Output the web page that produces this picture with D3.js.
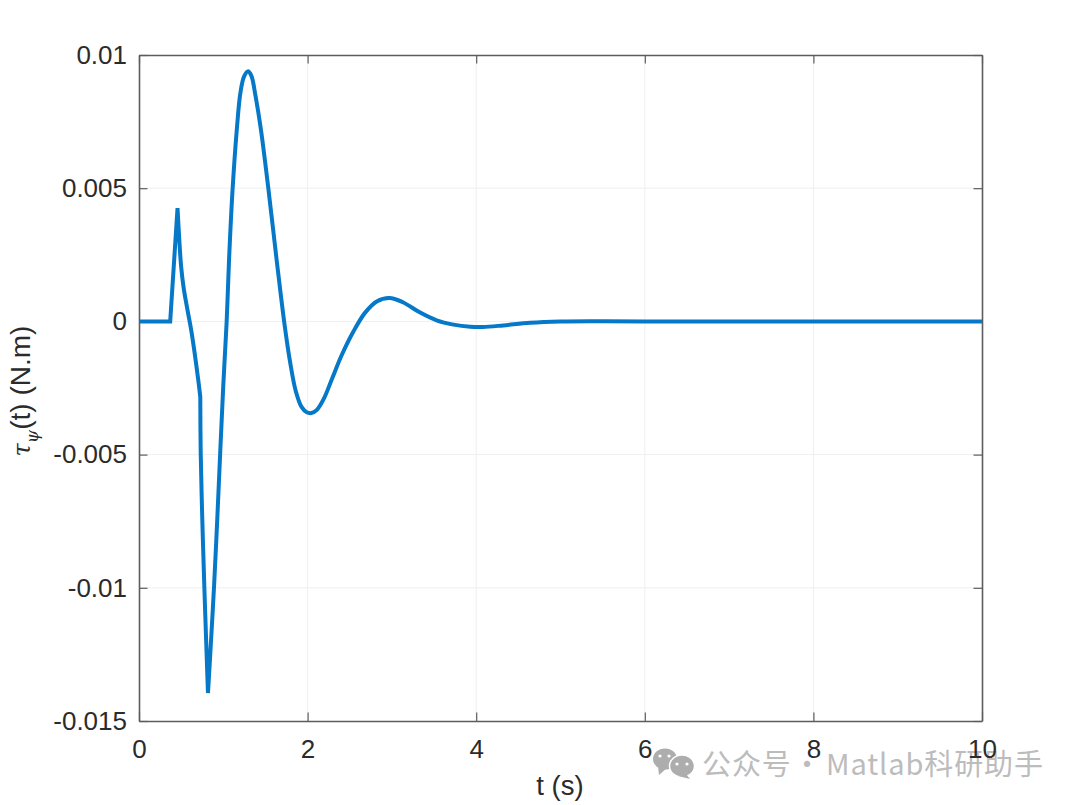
<!DOCTYPE html>
<html><head><meta charset="utf-8">
<script src="https://cdnjs.cloudflare.com/ajax/libs/d3/7.8.5/d3.min.js"></script>
<style>html,body{margin:0;padding:0;background:#fff}svg{display:block}</style>
</head><body><svg id="c" width="1080" height="805"></svg>
<script>
const timeS=[0,0.37,0.457,
0.478,0.5,0.53,0.57,0.625,0.703,0.727,
0.732,0.751,0.775,0.795,0.818,
0.846,0.89,0.928,0.963,0.999,1.04,1.068,1.111,1.163,1.202,1.246,1.296,1.335,1.38,1.444,1.534,1.633,1.724,1.79,1.86,1.93,1.99,2.045,2.11,2.19,2.29,2.4,2.54,2.68,2.82,2.97,3.13,3.33,3.53,3.73,3.93,4.08,4.32,4.64,5,5.4,6,10];
const torque=[0,0,0.00425,
0.00306,0.00205,0.00125,0.00052,-0.00044,-0.0022,-0.00284,
-0.00494,-0.00745,-0.00996,-0.01184,-0.01395,
-0.01245,-0.00996,-0.00745,-0.00494,-0.00246,0,0.0023,0.005,0.00731,0.00856,0.00919,0.00939,0.0092,0.0085,0.00725,0.005,0.0023,-0.00006,-0.00148,-0.00262,-0.00322,-0.00341,-0.00344,-0.00332,-0.00292,-0.00215,-0.0013,-0.0004,0.00032,0.00075,0.00088,0.00072,0.00034,0.00004,-0.00012,-0.0002,-0.00021,-0.00015,-0.00005,0,0.00001,0,0];
const cornerIndex=[0,1,2,9,14,timeS.length-1]; // samples where the curve has a sharp corner
const xTicks=[0,2,4,6,8,10];
const yTicks=[-0.015,-0.01,-0.005,0,0.005,0.01];
const yTickLabels=["-0.015","-0.01","-0.005","0","0.005","0.01"];
const xTitle="t (s)";
const watermarkParts=["公众号","·","Matlab科研助手"];

const L=139,R=982,T=55,B=721;
const svg=d3.select("#c");
const x=d3.scaleLinear().domain([0,10]).range([L,R]);
const y=d3.scaleLinear().domain([-0.015,0.01]).range([B,T]);
const font="'Liberation Sans',Arial,sans-serif", ink="#2b2b2b", frame="#5c5c5c";

// grid
svg.append("g").selectAll("line").data(xTicks.slice(1,-1)).join("line")
 .attr("x1",d=>x(d)).attr("x2",d=>x(d)).attr("y1",T).attr("y2",B).attr("stroke","#efefef").attr("stroke-width",1);
svg.append("g").selectAll("line").data(yTicks.slice(1,-1)).join("line")
 .attr("x1",L).attr("x2",R).attr("y1",d=>y(d)).attr("y2",d=>y(d)).attr("stroke","#efefef").attr("stroke-width",1);

// watermark
const wm=svg.append("g");
const g=wm.append("g").attr("fill","#adadad");
g.append("ellipse").attr("cx",665).attr("cy",759).attr("rx",12).attr("ry",10.5);
g.append("path").attr("d","M658 766 L659 775 L667 768 Z");
g.append("ellipse").attr("cx",682).attr("cy",766).attr("rx",12.5).attr("ry",11).attr("stroke","#fff").attr("stroke-width",1.5);
g.append("path").attr("d","M686 774 L690 779 L678 776 Z");
[[660,756],[669,756],[677,764],[687,764]].forEach(p=>wm.append("circle").attr("cx",p[0]).attr("cy",p[1]).attr("r",1.6).attr("fill","#fff"));
const wmX=[702,792.5,826];
wm.append("text").attr("y",775).attr("fill","#bcbcbc")
 .attr("font-family","'Noto Sans CJK SC','Noto Sans',sans-serif").attr("font-size",29).attr("letter-spacing",0.9)
 .selectAll("tspan").data(watermarkParts).join("tspan").attr("x",(d,i)=>wmX[i]).text(d=>d);

// axes
function styleAxis(a){a.selectAll("path").attr("stroke",frame).attr("stroke-width",1.6);
 a.selectAll("line").attr("stroke",frame).attr("stroke-width",1.2);
 a.selectAll("text").attr("fill",ink).attr("font-family",font).attr("font-size",26);return a;}
const fmtY=d=>yTickLabels[yTicks.indexOf(d)];
styleAxis(svg.append("g").attr("transform",`translate(0,${B})`).call(d3.axisBottom(x).tickValues(xTicks).tickFormat(d3.format("d")).tickSizeInner(-8.5).tickSizeOuter(0).tickPadding(19)));
styleAxis(svg.append("g").attr("transform",`translate(${L},0)`).call(d3.axisLeft(y).tickValues(yTicks).tickFormat(fmtY).tickSizeInner(-8.5).tickSizeOuter(0).tickPadding(12)));
styleAxis(svg.append("g").attr("transform",`translate(0,${T})`).call(d3.axisTop(x).tickValues(xTicks).tickFormat("").tickSizeInner(-8.5).tickSizeOuter(0)));
styleAxis(svg.append("g").attr("transform",`translate(${R},0)`).call(d3.axisRight(y).tickValues(yTicks).tickFormat("").tickSizeInner(-8.5).tickSizeOuter(0)));

// curve: smooth between the sharp corners
const pts=timeS.map((t,i)=>[t,torque[i]]);
const line=d3.line().x(d=>x(d[0])).y(d=>y(d[1])).curve(d3.curveCatmullRom.alpha(0.5));
const joined=d3.pairs(cornerIndex).map(([a,b],i)=>{
  const d=line(pts.slice(a,b+1));
  return i?d.replace(/^M[^CL]*/,""):d;
}).join("");
svg.append("path").attr("d",joined)
 .attr("fill","none").attr("stroke","#0678c8").attr("stroke-width",4).attr("stroke-linejoin","miter").attr("stroke-miterlimit",6);

// titles
svg.append("text").attr("x",560).attr("y",795).attr("text-anchor","middle").attr("fill",ink)
 .attr("font-family",font).attr("font-size",27.5).text(xTitle);
const yl=svg.append("text").attr("transform","translate(30,391) rotate(-90)").attr("text-anchor","middle")
 .attr("fill",ink).attr("font-family",font).attr("font-size",28);
yl.append("tspan").attr("font-family","'DejaVu Serif',serif").attr("font-style","italic").attr("font-size",24).text("τ");
yl.append("tspan").attr("font-family","'DejaVu Serif',serif").attr("font-style","italic").attr("font-size",17).attr("dy",8).text("ψ");
yl.append("tspan").attr("dy",-8).text("(t) (N.m)");
</script></body></html>
